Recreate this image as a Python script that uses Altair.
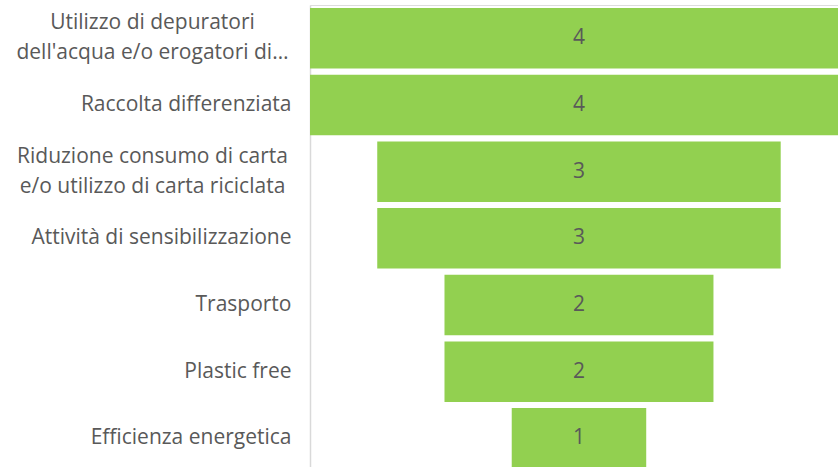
import altair as alt
import pandas as pd

categories = [
    "Utilizzo di depuratori\ndell'acqua e/o erogatori di…",
    "Raccolta differenziata",
    "Riduzione consumo di carta\ne/o utilizzo di carta riciclata",
    "Attività di sensibilizzazione",
    "Trasporto",
    "Plastic free",
    "Efficienza energetica",
]
values = [4, 4, 3, 3, 2, 2, 1]

df = pd.DataFrame({"cat": categories, "val": values})

multi = "indexof(datum.value, '\\n') >= 0"

y_enc = alt.Y(
    "cat:N",
    sort=categories,
    title=None,
    scale=alt.Scale(paddingInner=0.0925, paddingOuter=0.046, range=[0, 466.7]),
    axis=alt.Axis(
        labelExpr="split(datum.label, '\\n')",
        labelFont="Open Sans",
        labelFontSize=21,
        labelColor="#595959",
        labelPadding={"condition": {"test": multi, "value": 158}, "value": 19},
        labelAlign={"condition": {"test": multi, "value": "center"}, "value": "right"},
        labelLineHeight=30,
        labelOffset={"condition": {"test": multi, "value": -15}, "value": 0},
        ticks=False,
        domainColor="#d9d9d9",
        domainWidth=1.5,
        labelLimit=320,
    ),
)

x_scale = alt.Scale(domain=[-2, 1.926], nice=False, zero=False)

base = alt.Chart(df).transform_calculate(
    x0="-datum.val/2", x1="datum.val/2", mid="0"
)

bars = base.mark_bar(color="#92D050", clip=True).encode(
    y=y_enc,
    x=alt.X("x0:Q", scale=x_scale, axis=None),
    x2="x1:Q",
)

labels = base.mark_text(
    font="Open Sans", fontSize=21, color="#595959", baseline="middle", align="center"
).encode(
    y=alt.Y("cat:N", sort=categories),
    x=alt.X("mid:Q", scale=x_scale),
    text="val:Q",
)

chart = (
    alt.layer(bars, labels)
    .properties(
        width=528,
        height=462,
        autosize=alt.AutoSizeParams(type="none"),
        padding={"left": 310, "top": 5, "right": 0, "bottom": 0},
    )
    .configure_view(stroke=None)
    .configure(background="white")
)

chart.save("out.html", embed_options={"renderer": "svg", "actions": False})
